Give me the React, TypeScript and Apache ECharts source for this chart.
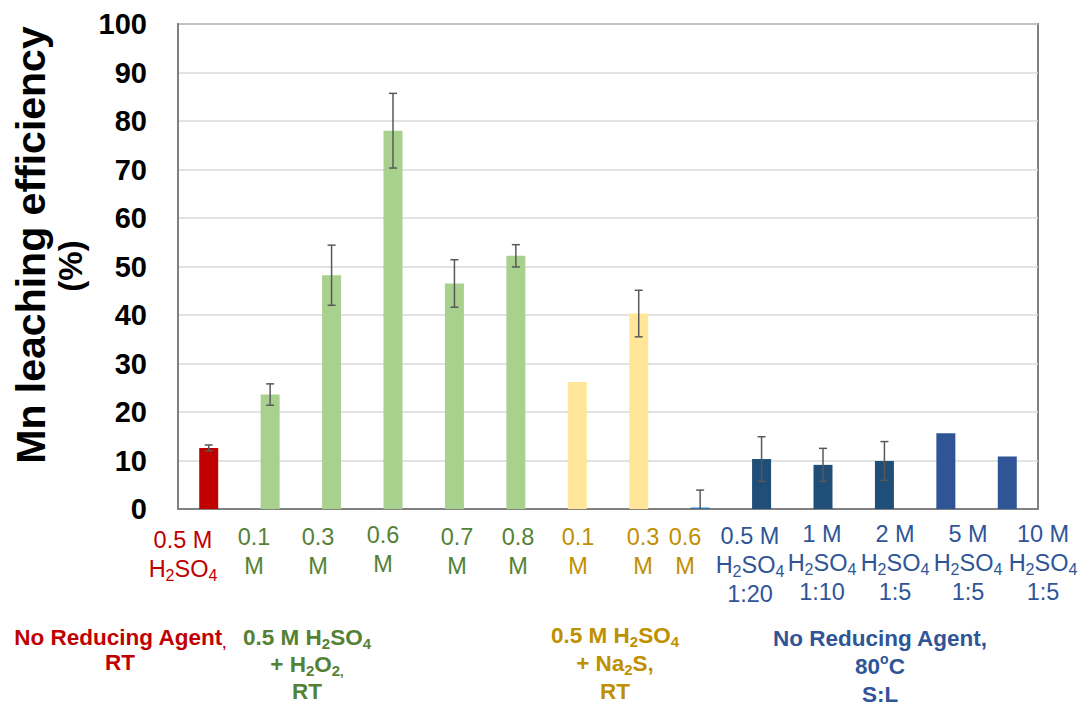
import React, { useEffect, useRef } from "react";
import * as echarts from "echarts";

// ---- data ----
const categories = [
  "0.5 M H2SO4",
  "0.1 M",
  "0.3 M",
  "0.6 M",
  "0.7 M",
  "0.8 M",
  "0.1 M",
  "0.3 M",
  "0.6 M",
  "0.5 M H2SO4 1:20",
  "1 M H2SO4 1:10",
  "2 M H2SO4 1:5",
  "5 M H2SO4 1:5",
  "10 M H2SO4 1:5",
];
const values = [12.6, 23.6, 48.2, 78.0, 46.5, 52.2, 26.2, 40.3, 0.3, 10.3, 9.1, 9.9, 15.6, 10.8];
const errors = [0.6, 2.2, 6.2, 7.7, 4.9, 2.3, 0, 4.8, 3.6, 4.6, 3.4, 4.0, 0, 0];
const groupOf = [0, 1, 1, 1, 1, 1, 2, 2, 2, 3, 3, 3, 3, 3];
const yTicks = [0, 10, 20, 30, 40, 50, 60, 70, 80, 90, 100];

// label lines (rich-text markup: {s|..} subscript)
const labelLines = [
  ["0.5 M", "H{s|2}SO{s|4}"],
  ["0.1", "M"],
  ["0.3", "M"],
  ["0.6", "M"],
  ["0.7", "M"],
  ["0.8", "M"],
  ["0.1", "M"],
  ["0.3", "M"],
  ["0.6", "M"],
  ["0.5 M", "H{s|2}SO{s|4}", "1:20"],
  ["1 M", "H{s|2}SO{s|4}", "1:10"],
  ["2 M", "H{s|2}SO{s|4}", "1:5"],
  ["5 M", "H{s|2}SO{s|4}", "1:5"],
  ["10 M", "H{s|2}SO{s|4}", "1:5"],
];
const groupTitles = [
  ["No Reducing Agent{c|,}", "RT"],
  ["0.5 M H{s|2}SO{s|4}", "+ H{s|2}O{s|2}{c|,}", "RT"],
  ["0.5 M H{s|2}SO{s|4}", "+ Na{s|2}S,", "RT"],
  ["No Reducing Agent,", "80{p|o}C", "S:L"],
];
const yTitleMain = "Mn leaching efficiency";
const yTitleUnit = "(%)";

// ---- styles / layout ----
const FONT = "'Liberation Sans', Arial, Helvetica, sans-serif";
const labelColors = ["#C00000", "#548235", "#BF9000", "#2F5597"];
const barColors = [
  "#C00000",
  "#A9D18E", "#A9D18E", "#A9D18E", "#A9D18E", "#A9D18E",
  "#FFE699", "#FFE699", "#2E75B6",
  "#1F4E79", "#1F4E79", "#1F4E79",
  "#2F5597", "#2F5597",
];
const labelX = [183, 254, 318, 383, 457, 518, 578, 643, 685, 750, 822, 895, 968, 1043];
const labelTop = [525, 522, 522, 520, 522, 522, 522, 522, 522, 521, 519, 519, 519, 519];
const groupX = [120, 307, 615, 880];
const groupTop = [625, 624, 621, 624];
const groupLH = [25, 27, 28, 28];

function App() {
  const ref = useRef<HTMLDivElement>(null);

  useEffect(() => {
    if (!ref.current) return;
    const chart = echarts.init(ref.current, undefined, { renderer: "svg" });

    const errData = values
      .map((v, i) => [i, Math.max(0, v - errors[i]), v + errors[i], errors[i]])
      .filter((d) => d[3] > 0);

    const wrap = (l: string, key: string) =>
      l.replace(/(^|\})([^{}]+)(\{|$)/g, (m, a, b, c) => `${a}{${key}|${b}}${c}`);

    const graphics: any[] = [];
    labelLines.forEach((lines, i) => {
      const color = labelColors[groupOf[i]];
      graphics.push({
        type: "text",
        x: labelX[i],
        y: labelTop[i],
        silent: true,
        style: {
          text: lines.map((l) => wrap(l, "n")).join("\n"),
          fill: color,
          textAlign: "center",
          textVerticalAlign: "top",
          rich: {
            n: { fontSize: 23.5, fontFamily: FONT, fill: color, lineHeight: 29 },
            s: { fontSize: 16, fontFamily: FONT, fill: color, lineHeight: 16, verticalAlign: "bottom" },
          },
        },
      });
    });
    groupTitles.forEach((lines, g) => {
      const color = labelColors[g];
      const lh = groupLH[g];
      graphics.push({
        type: "text",
        x: groupX[g],
        y: groupTop[g],
        silent: true,
        style: {
          text: lines.map((l) => wrap(l, "b")).join("\n"),
          fill: color,
          textAlign: "center",
          textVerticalAlign: "top",
          rich: {
            b: { fontSize: 22.5, fontWeight: "bold", fontFamily: FONT, fill: color, lineHeight: lh },
            s: { fontSize: 15, fontWeight: "bold", fontFamily: FONT, fill: color, lineHeight: 16, verticalAlign: "bottom" },
            c: { fontSize: 13, fontWeight: "bold", fontFamily: FONT, fill: color, lineHeight: 14, verticalAlign: "bottom" },
            p: { fontSize: 14, fontWeight: "bold", fontFamily: FONT, fill: color, lineHeight: 18, verticalAlign: "top" },
          },
        },
      });
    });
    graphics.push({
      type: "text",
      x: 31,
      y: 245,
      rotation: Math.PI / 2,
      silent: true,
      style: {
        text: yTitleMain,
        fill: "#000000",
        font: `bold 41px ${FONT}`,
        textAlign: "center",
        textVerticalAlign: "middle",
      },
    });
    graphics.push({
      type: "text",
      x: 70,
      y: 266,
      rotation: Math.PI / 2,
      silent: true,
      style: {
        text: yTitleUnit,
        fill: "#000000",
        font: `bold 33px ${FONT}`,
        textAlign: "center",
        textVerticalAlign: "middle",
      },
    });

    chart.setOption({
      animation: false,
      backgroundColor: "#ffffff",
      grid: {
        left: 178,
        right: 49,
        top: 24,
        bottom: 199,
        show: true,
        borderColor: "#808080",
        borderWidth: 2,
        containLabel: false,
      },
      xAxis: {
        type: "category",
        data: categories,
        axisLine: { show: true, lineStyle: { color: "#808080", width: 2 } },
        axisTick: { show: false },
        axisLabel: { show: false },
        splitLine: { show: false },
      },
      yAxis: {
        type: "value",
        min: yTicks[0],
        max: yTicks[yTicks.length - 1],
        interval: 10,
        axisLine: { show: true, lineStyle: { color: "#808080", width: 2 } },
        axisTick: { show: false },
        axisLabel: {
          color: "#000000",
          fontSize: 29,
          fontWeight: "bold",
          fontFamily: FONT,
          margin: 31,
        },
        splitLine: { show: true, lineStyle: { color: "#D9D9D9", width: 1.5 } },
      },
      series: [
        {
          type: "bar",
          barWidth: 19,
          data: values.map((v, i) => ({
            value: v,
            itemStyle: { color: barColors[i] },
          })),
        },
        {
          type: "custom",
          z: 10,
          data: errData,
          renderItem: (params: any, api: any) => {
            const x = api.value(0);
            const lo = api.coord([x, api.value(1)]);
            const hi = api.coord([x, api.value(2)]);
            const style = { stroke: "#595959", lineWidth: 1.5 };
            const cap = 4;
            const children: any[] = [
              { type: "line", shape: { x1: hi[0], y1: hi[1], x2: lo[0], y2: lo[1] }, style },
              { type: "line", shape: { x1: hi[0] - cap, y1: hi[1], x2: hi[0] + cap, y2: hi[1] }, style },
            ];
            if (api.value(1) > 0) {
              children.push({ type: "line", shape: { x1: lo[0] - cap, y1: lo[1], x2: lo[0] + cap, y2: lo[1] }, style });
            }
            return { type: "group", children };
          },
        },
      ],
      graphic: graphics,
    });

    return () => chart.dispose();
  }, []);

  return <div ref={ref} style={{ width: 1087, height: 708, position: "absolute", left: 0, top: 0 }} />;
}

export default App;
